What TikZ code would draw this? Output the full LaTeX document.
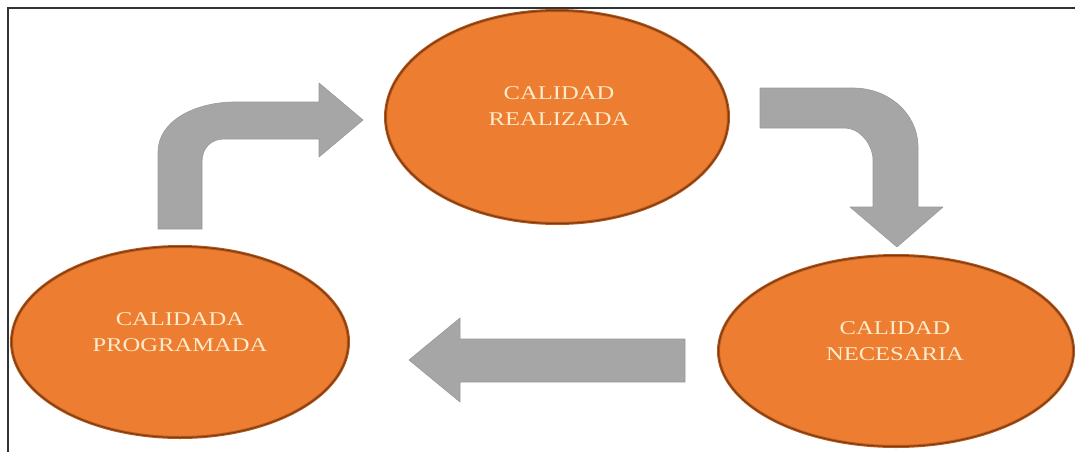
\documentclass[tikz,border=0pt]{standalone}
\usepackage{fontspec}
\newfontfamily\labelfont[FakeStretch=1.26]{Liberation Serif}
\usetikzlibrary{shapes.geometric}
\definecolor{ovalfill}{HTML}{ED7D31}
\definecolor{ovalrim}{HTML}{B8591C}
\definecolor{ovaledge}{HTML}{7A3B12}
\definecolor{arrowgray}{HTML}{A6A6A6}
\definecolor{arrowedge}{HTML}{9A9A9A}
\definecolor{labeltext}{HTML}{FDEBCB}
\tikzset{
  oval/.style={ellipse, inner sep=0pt, fill=ovalfill, draw=ovalrim, line width=3pt,
    postaction={draw=ovaledge, line width=1pt}},
  ovaltext/.style={align=center, text=labeltext, inner sep=0pt,
    font=\labelfont\fontsize{19.5}{25.5}\selectfont},
  blockarrow/.style={fill=arrowgray, draw=arrowedge, line width=0.6pt, line join=round},
  frameline/.style={draw=black!80, line width=1.6pt}
}
\begin{document}
\begin{tikzpicture}[x=1pt, y=-1pt]
\useasboundingbox (0,0) rectangle (1075,452);
% frame (top and left edges)
\coordinate (fTL) at (8,8);
\coordinate (fTR) at (1075,8);
\coordinate (fBL) at (8,452);
\draw[frameline] (fTR) -- (fTL) -- (fBL);

% ovals
\node[oval, minimum width=343pt, minimum height=213pt] (real) at (557,117) {};
\node[oval, minimum width=355pt, minimum height=191pt] (nec) at (896,351) {};
\node[oval, minimum width=337pt, minimum height=191pt] (prog) at (180,342) {};

\node[ovaltext] (realT) at (559,106) {CALIDAD\\REALIZADA};
\node[ovaltext] (necT) at (895,341) {CALIDAD\\NECESARIA};
\node[ovaltext] (progT) at (180,332) {CALIDADA\\PROGRAMADA};

% bent arrow: up then right (PROGRAMADA -> REALIZADA)
\path[blockarrow] (158,229) -- (158,152)
  .. controls (158,121) and (195,102) .. (235,102)
  -- (319,102) -- (319,83) -- (363,120) -- (319,157) -- (319,139)
  -- (224,139) .. controls (211,139) and (202,148) .. (202,162)
  -- (202,229) -- cycle;

% bent arrow: right then down (REALIZADA -> NECESARIA)
\path[blockarrow] (760,88) -- (853,88)
  .. controls (889,88) and (918,114) .. (918,147)
  -- (918,207) -- (943,207) -- (897,247) -- (850,207) -- (873,207)
  -- (873,160) .. controls (873,145) and (860,128) .. (845,128)
  -- (760,128) -- cycle;

% straight arrow: left (NECESARIA -> PROGRAMADA)
\path[blockarrow] (685,339) -- (460,339) -- (460,318) -- (409,360)
  -- (460,402) -- (460,382) -- (685,382) -- cycle;
\end{tikzpicture}
\end{document}
